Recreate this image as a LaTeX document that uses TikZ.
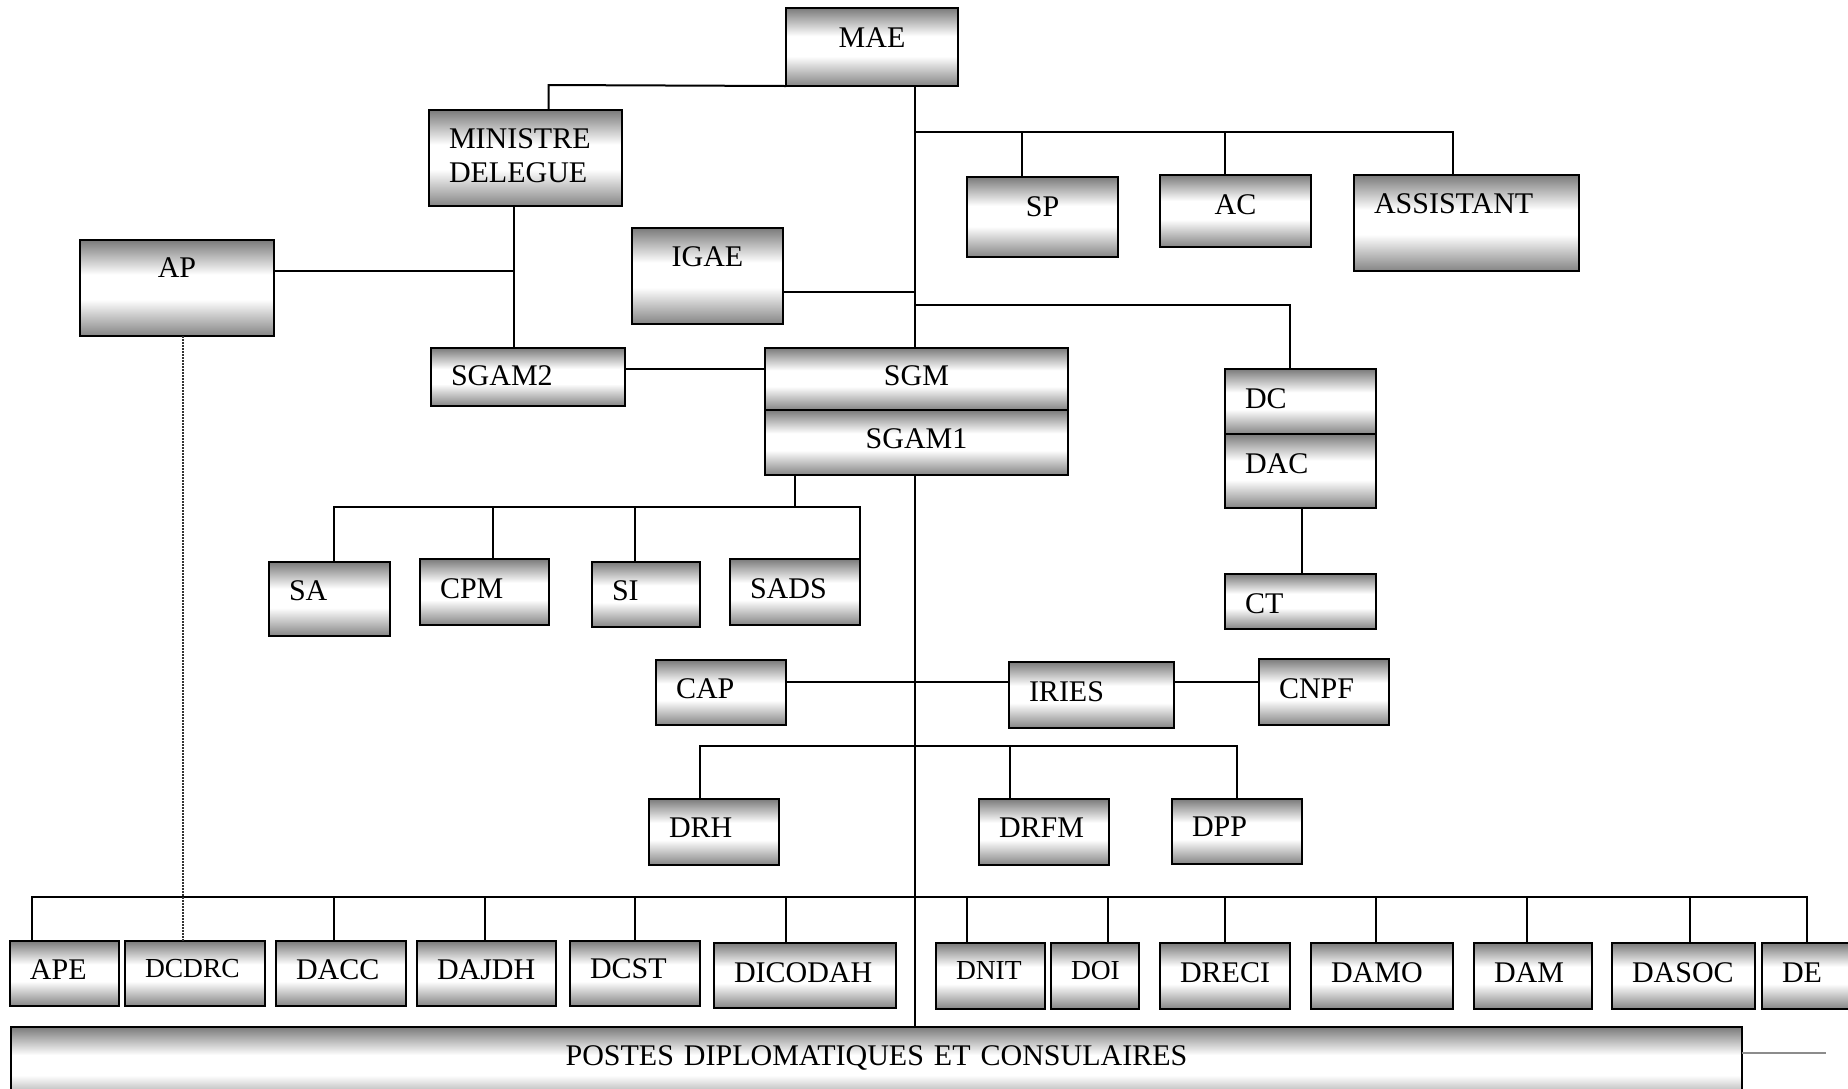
\documentclass[tikz,border=0pt]{standalone}
\usepackage{fontspec}
\setmainfont{Liberation Serif}
\newcommand\ind{\hspace*{8pt}}
\newcommand\sm{\fontsize{11}{12.6}\selectfont}
\pgfdeclareverticalshading{obshade}{100bp}{color(0bp)=(black!48); color(25bp)=(black!48); color(44bp)=(white); color(57bp)=(white); color(75bp)=(black!52); color(100bp)=(black!52)}
\tikzset{
  obox/.style={draw=black, line width=1pt, inner sep=0pt, outer sep=0pt,
    shading=obshade, shade,
    font=\fontsize{12}{13.6}\selectfont},
  conn/.style={line width=0.8pt, draw=black},
  dotline/.style={line width=0.5pt, draw=black!80, dash pattern=on 0.6pt off 0.6pt},
}
\newcommand\OB[8]{%
  \pgfmathsetlengthmacro\obw{(#4-#2)*0.4pt}%
  \pgfmathsetlengthmacro\obh{(#6-#3)*0.4pt}%
  \pgfmathsetlengthmacro\obd{(#5-#6)*0.4pt}%
  \node[obox, anchor=north west, text width=\obw, text height=\obh, text depth=\obd, align=#7] (#1) at (#2,#3) {#8};%
}
\begin{document}
\begin{tikzpicture}[x=0.4pt, y=-0.4pt]
\useasboundingbox (0,0) rectangle (1848,1088);
\clip (0,0) rectangle (1848,1088);
% boxes
\OB{MAE}{786}{8}{958}{86}{47}{center}{MAE}
\OB{MIN}{429}{110}{622}{206}{148}{left}{\ind MINISTRE\\\ind DELEGUE}
\OB{SP}{967}{177}{1118}{257}{216}{center}{SP}
\OB{AC}{1160}{175}{1311}{247}{214}{center}{AC}
\OB{ASS}{1354}{175}{1579}{271}{213}{left}{\ind ASSISTANT}
\OB{AP}{80}{240}{274}{336}{277}{center}{AP}
\OB{IGAE}{632}{228}{783}{324}{266}{center}{IGAE}
\OB{SGAMb}{431}{348}{625}{406}{385}{left}{\ind SGAM2}
\OB{SGM}{765}{348}{1068}{410}{385}{center}{SGM}
\OB{SGAMa}{765}{410}{1068}{475}{448}{center}{SGAM1}
\OB{DC}{1225}{369}{1376}{434}{408}{left}{\ind DC}
\OB{DAC}{1225}{434}{1376}{508}{473}{left}{\ind DAC}
\OB{CT}{1225}{574}{1376}{629}{613}{left}{\ind CT}
\OB{SA}{269}{562}{390}{636}{600}{left}{\ind SA}
\OB{CPM}{420}{559}{549}{625}{598}{left}{\ind CPM}
\OB{SI}{592}{562}{700}{627}{600}{left}{\ind SI}
\OB{SADS}{730}{559}{860}{625}{598}{left}{\ind SADS}
\OB{CAP}{656}{660}{786}{725}{698}{left}{\ind CAP}
\OB{IRIES}{1009}{662}{1174}{728}{701}{left}{\ind IRIES}
\OB{CNPF}{1259}{659}{1389}{725}{698}{left}{\ind CNPF}
\OB{DRH}{649}{799}{779}{865}{837}{left}{\ind DRH}
\OB{DRFM}{979}{799}{1109}{865}{837}{left}{\ind DRFM}
\OB{DPP}{1172}{799}{1302}{864}{836}{left}{\ind DPP}
\OB{APE}{10}{941}{119}{1006}{979}{left}{\ind APE}
\OB{DCDRC}{125}{941}{265}{1006}{977}{left}{\sm\ind DCDRC}
\OB{DACC}{276}{941}{406}{1006}{979}{left}{\ind DACC}
\OB{DAJDH}{417}{941}{556}{1006}{979}{left}{\ind DAJDH}
\OB{DCST}{570}{941}{700}{1006}{978}{left}{\ind DCST}
\OB{DICODAH}{714}{943}{896}{1008}{982}{left}{\ind DICODAH}
\OB{DNIT}{936}{943}{1045}{1009}{979}{left}{\sm\ind DNIT}
\OB{DOI}{1051}{943}{1139}{1009}{979}{left}{\sm\ind DOI}
\OB{DRECI}{1160}{943}{1290}{1009}{982}{left}{\ind DRECI}
\OB{DAMO}{1311}{943}{1453}{1009}{982}{left}{\ind DAMO}
\OB{DAM}{1474}{943}{1592}{1009}{982}{left}{\ind DAM}
\OB{DASOC}{1612}{943}{1755}{1009}{982}{left}{\ind DASOC}
\OB{DE}{1762}{943}{1880}{1009}{982}{left}{\ind DE}
\OB{POSTES}{11}{1027}{1742}{1105}{1065}{center}{POSTES DIPLOMATIQUES ET CONSULAIRES}
% connectors
\coordinate (tr) at (915,0);
\draw[conn] (MAE.south -| tr) -- (SGM.north -| tr);
\draw[conn] (SGAMa.south -| tr) -- (POSTES.north -| tr);
\coordinate (jm) at (548.5,85);
\draw[conn] (MAE.south west) -- (jm) -- (jm |- MIN.north);
\coordinate (bt) at (915,132);
\coordinate (bA) at (1453,132);
\draw[conn] (bt) -- (bA) -- (bA |- ASS.north);
\coordinate (bSP) at (1022,132);
\draw[conn] (bSP) -- (bSP |- SP.north);
\coordinate (bAC) at (1225,132);
\draw[conn] (bAC) -- (bAC |- AC.north);
\coordinate (ig) at (915,292);
\draw[conn] (ig) -- (ig -| IGAE.east);
\coordinate (dcA) at (915,305);
\coordinate (dcB) at (1290,305);
\draw[conn] (dcA) -- (dcB) -- (dcB |- DC.north);
\coordinate (mv) at (514,271);
\draw[conn] (mv |- MIN.south) -- (mv |- SGAMb.north);
\draw[conn] (AP.east |- mv) -- (mv);
\coordinate (sg) at (700,369);
\draw[conn] (SGAMb.east |- sg) -- (SGM.west |- sg);
\coordinate (sb) at (795,507);
\draw[conn] (sb |- SGAMa.south) -- (sb);
\coordinate (sL) at (333.5,507);
\coordinate (sR) at (860,507);
\draw[conn] (sL |- SA.north) -- (sL) -- (sR) -- (sR |- SADS.north);
\coordinate (sCPM) at (493,507);
\draw[conn] (sCPM) -- (sCPM |- CPM.north);
\coordinate (sSI) at (635,507);
\draw[conn] (sSI) -- (sSI |- SI.north);
\coordinate (ci) at (900,682);
\draw[conn] (CAP.east |- ci) -- (IRIES.west |- ci);
\draw[conn] (IRIES.east |- ci) -- (CNPF.west |- ci);
\coordinate (ct) at (1302,540);
\draw[conn] (ct |- DAC.south) -- (ct |- CT.north);
\coordinate (dL) at (699.5,746);
\coordinate (dR) at (1237,746);
\draw[conn] (dL |- DRH.north) -- (dL) -- (dR) -- (dR |- DPP.north);
\coordinate (dM) at (1010,746);
\draw[conn] (dM) -- (dM |- DRFM.north);
\coordinate (bL) at (32,897);
\coordinate (bR) at (1807,897);
\draw[conn] (bL |- APE.north) -- (bL) -- (bR) -- (bR |- DE.north);
\foreach \xx/\nn in {334/DACC,485/DAJDH,635/DCST,786/DICODAH,967/DNIT,1108/DOI,1225/DRECI,1376/DAMO,1527/DAM,1690/DASOC}{
  \coordinate (bb) at (\xx,897);
  \draw[conn] (bb) -- (bb |- \nn.north);
}
\coordinate (dd) at (183,600);
\draw[dotline] (dd |- AP.south) -- (dd |- DCDRC.north);
\coordinate (gl) at (1826,1053);
\draw[line width=0.5pt, draw=black!45] (POSTES.east |- gl) -- (gl);
\end{tikzpicture}
\end{document}
